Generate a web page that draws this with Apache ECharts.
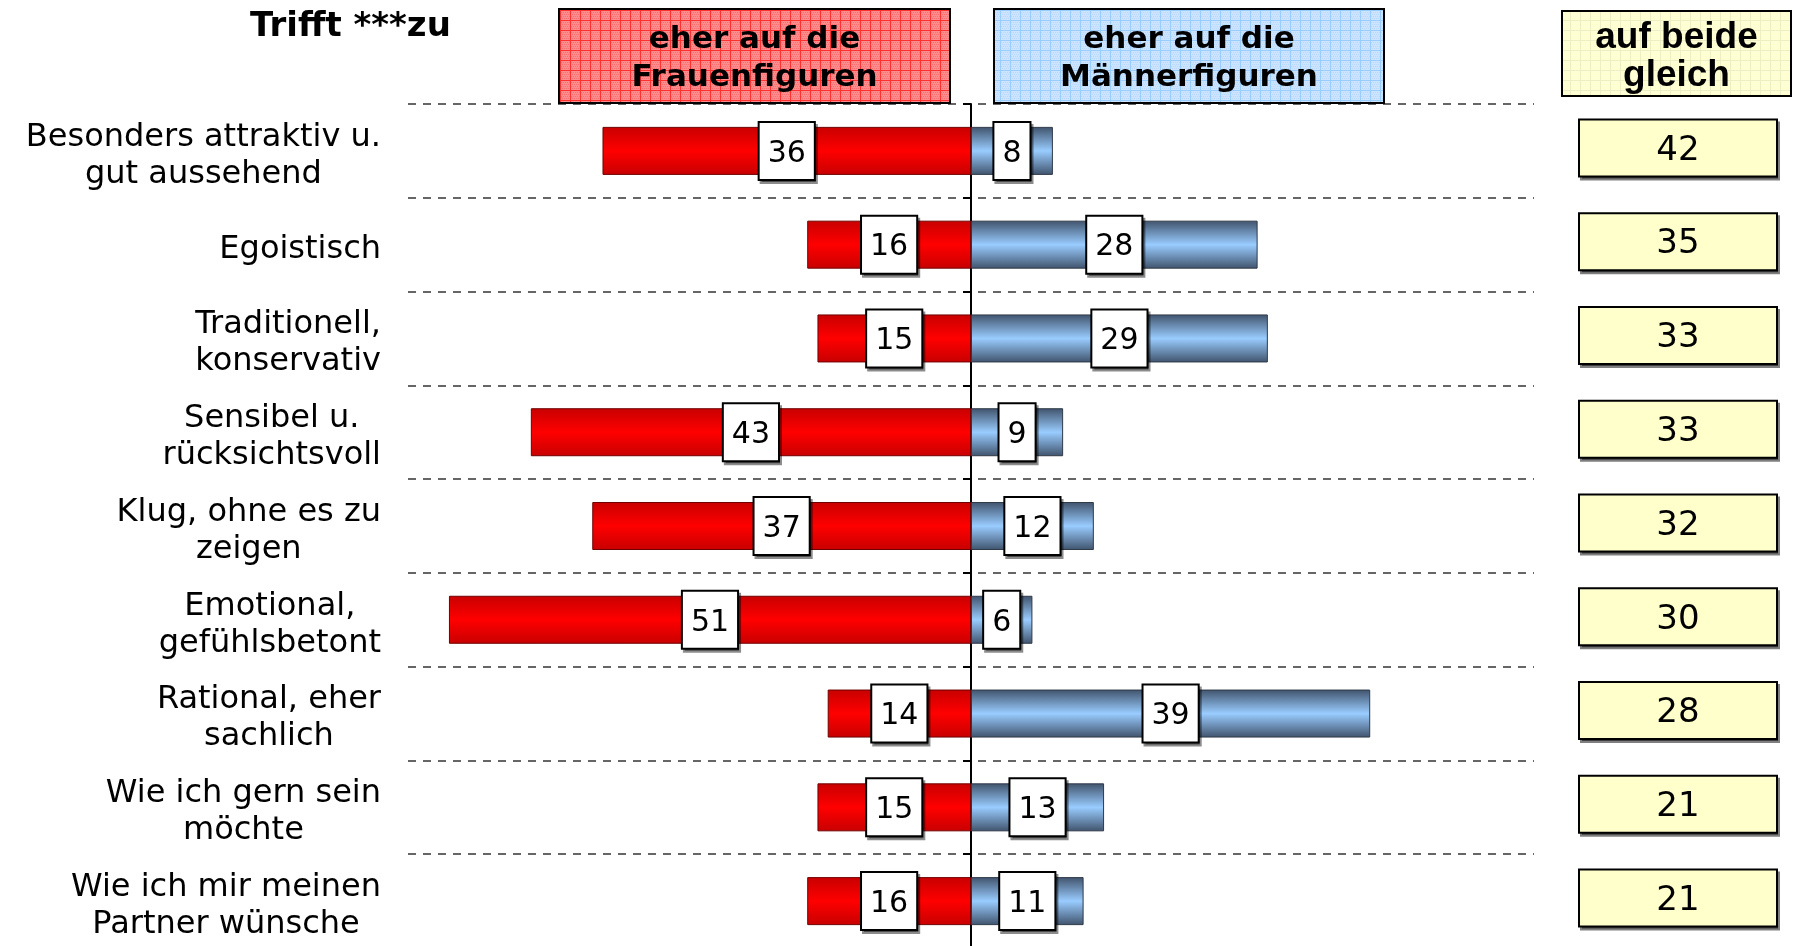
<!DOCTYPE html>
<html>
<head>
<meta charset="utf-8">
<title>Trifft zu</title>
<script src="https://cdn.jsdelivr.net/npm/echarts@6/dist/echarts.min.js"></script>
<style>
    html, body { margin: 0; padding: 0; background: #fff; }
    #chart { width: 1794px; height: 946px; }
</style>
</head>
<body>
<div id="chart"></div>
<script>
var categories = [
    'Besonders attraktiv u.\ngut aussehend',
    'Egoistisch',
    'Traditionell,\nkonservativ',
    'Sensibel u.\nrücksichtsvoll',
    'Klug, ohne es zu\nzeigen',
    'Emotional,\ngefühlsbetont',
    'Rational, eher\nsachlich',
    'Wie ich gern sein\nmöchte',
    'Wie ich mir meinen\nPartner wünsche'
];
var frauen = [36, 16, 15, 43, 37, 51, 14, 15, 16];
var maenner = [8, 28, 29, 9, 12, 6, 39, 13, 11];
var gleich = [42, 35, 33, 33, 32, 30, 28, 21, 21];

// small grid pattern like the old office fill
function gridPattern(base, dot, line) {
    var c = document.createElement('canvas');
    c.width = 10;
    c.height = 10;
    var ctx = c.getContext('2d');
    ctx.fillStyle = base;
    ctx.fillRect(0, 0, 10, 10);
    ctx.fillStyle = dot;
    for (var i = 0; i < 10; i += 2) {
        for (var j = (i / 2) % 2; j < 10; j += 2) {
            ctx.fillRect(j, i, 1, 1);
        }
    }
    ctx.fillStyle = line;
    ctx.fillRect(0, 0, 10, 1);
    ctx.fillRect(0, 0, 1, 10);
    return c;
}

function headerBox(x, y, w, h, pattern, text, font, lh, dy) {
    return [
        {
            type: 'rect',
            shape: { x: x, y: y, width: w, height: h },
            style: {
                fill: { image: pattern, repeat: 'repeat' },
                stroke: '#000',
                lineWidth: 2
            },
            z: 10
        },
        {
            type: 'text',
            x: x + w / 2,
            y: y + h / 2 + dy,
            style: {
                text: text,
                font: font,
                fill: '#000',
                align: 'center',
                verticalAlign: 'middle',
                textAlign: 'center',
                textVerticalAlign: 'middle',
                lineHeight: lh
            },
            z: 11
        }
    ];
}

var redGrad = new echarts.graphic.LinearGradient(0, 0, 0, 1, [
    { offset: 0, color: '#C80000' },
    { offset: 0.5, color: '#FF0000' },
    { offset: 1, color: '#C80000' }
]);
var blueGrad = new echarts.graphic.LinearGradient(0, 0, 0, 1, [
    { offset: 0, color: '#40536C' },
    { offset: 0.5, color: '#99CCFF' },
    { offset: 1, color: '#40536C' }
]);

var valueLabel = {
    show: true,
    position: 'inside',
    formatter: function (p) {
        return '{v|' + Math.abs(p.value) + '}';
    },
    rich: {
        v: {
            color: '#000',
            fontFamily: 'DejaVu Sans',
            fontSize: 30,
            height: 32,
            backgroundColor: '#fff',
            borderColor: '#000',
            borderWidth: 2,
            padding: [15, 8, 9, 8],
            shadowColor: 'rgba(0,0,0,0.45)',
            shadowOffsetX: 2,
            shadowOffsetY: 3
        }
    }
};

var graphics = []
    .concat(headerBox(559, 9, 391, 94, gridPattern('#FF8C8C', '#FF6E6E', '#FF3030'),
        'eher auf die\nFrauenfiguren', 'bold 31px "DejaVu Sans"', 38, 3))
    .concat(headerBox(994, 9, 390, 94, gridPattern('#CCE4FF', '#B8D8FF', '#99CCFF'),
        'eher auf die\nMännerfiguren', 'bold 31px "DejaVu Sans"', 38, 3))
    .concat(headerBox(1562, 11, 229, 85, gridPattern('#FFFFD6', '#FFFFCC', '#EEEEC4'),
        'auf beide\ngleich', 'bold 37px "Liberation Sans"', 38, 3));

var option = {
    animation: false,
    backgroundColor: '#fff',
    title: {
        text: 'Trifft ***zu',
        left: 245,
        top: 5,
        textStyle: {
            fontFamily: 'DejaVu Sans',
            fontSize: 34,
            fontWeight: 'bold',
            color: '#000'
        }
    },
    grid: {
        left: 408,
        right: 260,
        top: 104,
        height: 844,
        outerBoundsMode: 'none'
    },
    xAxis: {
        type: 'value',
        min: -55,
        max: 55,
        show: false
    },
    yAxis: [
        {
            type: 'category',
            data: categories,
            inverse: true,
            position: 'left',
            axisLine: { show: false, onZero: false },
            axisTick: { show: false },
            axisLabel: {
                margin: 27,
                padding: [10, 0, 0, 0],
                formatter: function (v) {
                    return v.split('\n').map(function (s) {
                        return '{c|' + s + '}';
                    }).join('\n');
                },
                rich: {
                    c: {
                        align: 'center',
                        fontFamily: 'DejaVu Sans',
                        fontSize: 32,
                        lineHeight: 37,
                        color: '#000'
                    }
                }
            },
            splitLine: {
                show: true,
                lineStyle: { type: [8, 7], color: '#666', width: 2 }
            }
        },
        {
            type: 'category',
            data: categories,
            inverse: true,
            position: 'right',
            axisLine: { show: false, onZero: false },
            axisTick: { show: false },
            splitLine: { show: false },
            axisLabel: {
                margin: 46,
                padding: [0, 0, 6, 0],
                formatter: function (v, i) {
                    return '{b|' + gleich[i] + '}';
                },
                rich: {
                    b: {
                        width: 196,
                        height: 49,
                        padding: [6, 0, 0, 0],
                        align: 'center',
                        backgroundColor: '#FFFFCC',
                        borderColor: '#000',
                        borderWidth: 2,
                        fontFamily: 'DejaVu Sans',
                        fontSize: 34,
                        color: '#000',
                        shadowColor: 'rgba(0,0,0,0.5)',
                        shadowOffsetX: 2,
                        shadowOffsetY: 3
                    }
                }
            }
        },
        {
            type: 'category',
            data: categories,
            inverse: true,
            position: 'left',
            axisLine: { show: true, onZero: true, lineStyle: { color: '#000', width: 2 } },
            axisTick: { show: true, length: 8, lineStyle: { color: '#000', width: 2 } },
            axisLabel: { show: false },
            splitLine: { show: false }
        }
    ],
    series: [
        {
            name: 'eher auf die Frauenfiguren',
            type: 'bar',
            data: frauen.map(function (v) { return -v; }),
            barWidth: 48,
            barGap: '-100%',
            itemStyle: { color: redGrad, borderColor: '#700000', borderWidth: 1 },
            label: valueLabel
        },
        {
            name: 'eher auf die Männerfiguren',
            type: 'bar',
            data: maenner,
            barWidth: 48,
            barGap: '-100%',
            itemStyle: { color: blueGrad, borderColor: '#2F3A48', borderWidth: 1 },
            label: valueLabel
        }
    ],
    graphic: graphics
};

var chart = echarts.init(document.getElementById('chart'));
chart.setOption(option);
window.addEventListener('resize', function () {
    chart.resize();
});
</script>
</body>
</html>
